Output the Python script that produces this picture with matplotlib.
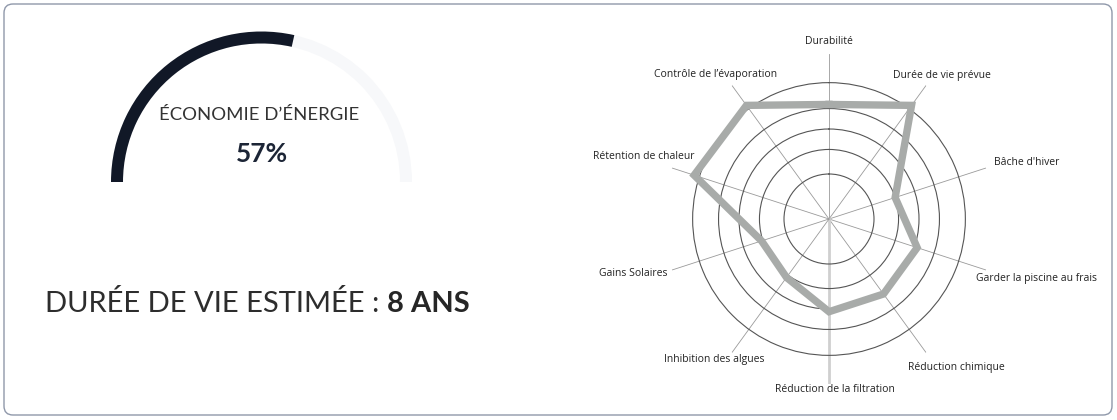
import numpy as np
import matplotlib
matplotlib.use("Agg")
import matplotlib.pyplot as plt
from matplotlib.patches import Wedge, FancyBboxPatch

# gauge
gauge_label = "ÉCONOMIE D’ÉNERGIE"
gauge_value = 57  # percent

# lifetime
life_label = "DURÉE DE VIE ESTIMÉE : "
life_value = "8 ANS"

# radar
categories = ["Durabilité", "Durée de vie prévue", "Bâche d'hiver",
              "Garder la piscine au frais", "Réduction chimique",
              "Réduction de la filtration", "Inhibition des algues",
              "Gains Solaires", "Rétention de chaleur",
              "Contrôle de l’évaporation"]
scores = [8.4, 10.3, 5.1, 6.8, 6.8, 6.8, 5.3, 5.2, 10.4, 10.3]
rings = [3.3, 5.1, 6.6, 8.1, 10.0]

W, H = 1117, 420
fig = plt.figure(figsize=(W / 100, H / 100), dpi=100)

# background axes in pixel units (y up)
bg = fig.add_axes([0, 0, 1, 1])
bg.set_xlim(0, W)
bg.set_ylim(0, H)
bg.axis("off")

bg.add_patch(FancyBboxPatch((4, 5), W - 9, H - 9,
                            boxstyle="round,pad=0,rounding_size=9",
                            fc="white", ec="#8f98aa", lw=1.0))

# gauge arc
cx, cy, r_out, thick = 261.5, H - 182, 150.5, 12
bg.add_patch(Wedge((cx, cy), r_out, 0, 180, width=thick, fc="#f7f8fa", ec="none"))
bg.add_patch(Wedge((cx, cy), r_out, 180 * (1 - gauge_value / 100), 180,
                   width=thick, fc="#111827", ec="none"))

bg.text(cx - 2, H - 114.5, gauge_label, ha="center", va="center",
        fontsize=13.3, family="Lato", color="#333333")
bg.text(cx, H - 153.5, f"{gauge_value}%", ha="center", va="center",
        fontsize=19, family="Lato", fontweight="bold", color="#1c2536")

t1 = bg.text(45, H - 312, life_label, ha="left", va="baseline",
             fontsize=21, family="Lato", color="#2d2d2d")
bg.annotate(life_value, xy=(1, 0), xycoords=t1, ha="left", va="bottom",
            fontsize=21, family="Lato", fontweight="bold", color="#262626")

# radar chart
rmax = 12.1
ccx, ccy = 829, H - 219
ax = fig.add_axes([(ccx - 165) / W, (ccy - 165) / H, 330 / W, 330 / H],
                  projection="polar")
ax.set_theta_zero_location("N")
ax.set_theta_direction(-1)
ax.patch.set_alpha(0)
ax.spines["polar"].set_visible(False)

n = len(categories)
angles = np.arange(n) * 2 * np.pi / n
ax.set_thetagrids(np.degrees(angles), labels=[""] * n)
ax.set_rgrids(rings, labels=[""] * len(rings))
ax.set_ylim(0, rmax)
ax.set_axisbelow(True)
for gl in ax.xaxis.get_gridlines():
    gl.set_color("#9a9a9a")
    gl.set_linewidth(0.6)
    gl.set_linestyle("-")
ax.xaxis.get_gridlines()[5].set_color("#cfcfcf")
ax.xaxis.get_gridlines()[5].set_linewidth(2.0)
for gl in ax.yaxis.get_gridlines():
    gl.set_color("#555555")
    gl.set_linewidth(0.8)
    gl.set_linestyle("-")

vals = scores + scores[:1]
th = list(angles) + [angles[0]]
ax.plot(th, vals, color="#a8aba9", lw=5.3, solid_joinstyle="miter", zorder=3)

# label placement (theta deg, radius in units)
lab_theta = [0, 38.3, 74.2, 105.9, 139.4, 178, 219.4, 254.5, 288.6, 321.8]
lab_r = [13.0, 13.4, 15.1, 15.8, 14.3, 12.5, 13.3, 14.9, 14.3, 13.5]
for name, a, rr in zip(categories, lab_theta, lab_r):
    ax.text(np.radians(a), rr, name, ha="center", va="center",
            fontsize=7.5, family="Open Sans", color="#222222", clip_on=False)

fig.savefig("out.png", dpi=100)
